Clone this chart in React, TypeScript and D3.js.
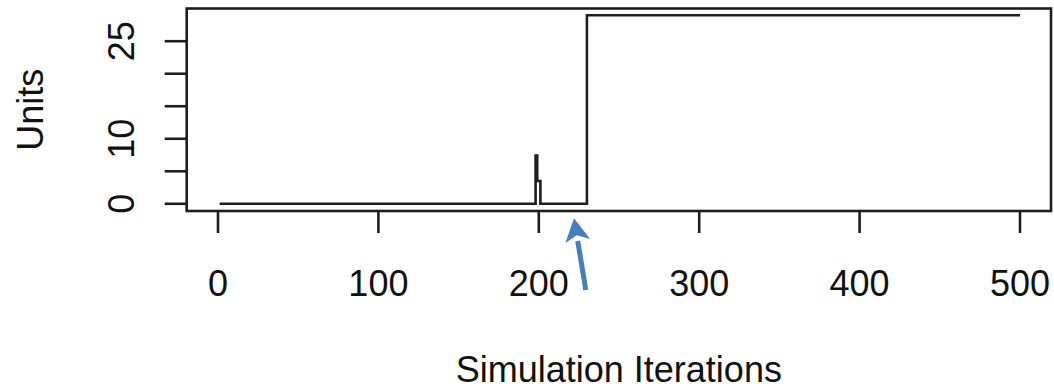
import React from "react";
import * as d3 from "d3";

// Change points of the simulated series (iteration, units); each value
// holds until the next change point.
const iterations = [1, 198, 199, 201, 230, 500];
const units = [0, 7.4, 3.5, 0, 29, 29];

const xTicks = [0, 100, 200, 300, 400, 500];
const yTicks = [0, 5, 10, 15, 20, 25];
const yTickLabels = ["0", "", "10", "", "", "25"];

const xLabel = "Simulation Iterations";
const yLabel = "Units";

const W = 1054;
const H = 392;
const frame = { left: 186.7, top: 8.5, right: 1051, bottom: 211 };
const FONT = "'Liberation Sans', Arial, sans-serif";
const INK = "#1e1e1e";
const ARROW = "#4a7ebb";

export default function App() {
  const x = d3.scaleLinear().domain([0, 500]).range([218, 1020]);
  const y = d3.scaleLinear().domain([0, 25]).range([203.8, 41.2]);

  const points: [number, number][] = iterations.map((it, i) => [it, units[i]]);
  const line = d3
    .line<[number, number]>()
    .curve(d3.curveStepAfter)
    .x((d) => x(d[0]))
    .y((d) => y(d[1]));

  const tickLen = 22;

  // annotation arrow pointing at the quiet stretch before the jump
  const tail: [number, number] = [585.8, 290];
  const tip: [number, number] = [574, 218.3];
  const ang = Math.atan2(tip[1] - tail[1], tip[0] - tail[0]);
  const headLen = 23;
  const headHalf = 12.5;
  const bx = tip[0] - headLen * Math.cos(ang);
  const by = tip[1] - headLen * Math.sin(ang);
  const px = -Math.sin(ang);
  const py = Math.cos(ang);
  const head = [
    [tip[0], tip[1]],
    [bx + px * headHalf, by + py * headHalf],
    [bx + 0.25 * headLen * Math.cos(ang), by + 0.25 * headLen * Math.sin(ang)],
    [bx - px * headHalf, by - py * headHalf],
  ]
    .map((p) => p.join(","))
    .join(" ");

  return (
    <svg
      width={W}
      height={H}
      style={{ position: "absolute", left: 0, top: 0, background: "#fff" }}
      fontFamily={FONT}
    >
      <rect x={0} y={0} width={W} height={H} fill="#fff" />

      {/* series */}
      <path
        d={line(points) || ""}
        fill="none"
        stroke={INK}
        strokeWidth={2.6}
        strokeLinejoin="miter"
      />

      {/* plot frame */}
      <rect
        x={frame.left}
        y={frame.top}
        width={frame.right - frame.left}
        height={frame.bottom - frame.top}
        fill="none"
        stroke={INK}
        strokeWidth={2.6}
      />

      {/* x axis */}
      {xTicks.map((t) => (
        <g key={`x${t}`}>
          <line
            x1={x(t)}
            x2={x(t)}
            y1={frame.bottom}
            y2={frame.bottom + tickLen}
            stroke={INK}
            strokeWidth={2.6}
          />
          <text
            x={x(t)}
            y={295.5}
            textAnchor="middle"
            fontSize={36}
            fill="#111"
          >
            {t}
          </text>
        </g>
      ))}

      {/* y axis */}
      {yTicks.map((t, i) => (
        <g key={`y${t}`}>
          <line
            x1={frame.left - tickLen}
            x2={frame.left}
            y1={y(t)}
            y2={y(t)}
            stroke={INK}
            strokeWidth={2.6}
          />
          {yTickLabels[i] && (
            <text
              transform={`translate(134,${y(t)}) rotate(-90)`}
              textAnchor="middle"
              fontSize={36}
              fill="#111"
            >
              {yTickLabels[i]}
            </text>
          )}
        </g>
      ))}

      {/* axis titles */}
      <text
        x={(frame.left + frame.right) / 2}
        y={381.5}
        textAnchor="middle"
        fontSize={36}
        fill="#111"
      >
        {xLabel}
      </text>
      <text
        transform={`translate(42.5,${(frame.top + frame.bottom) / 2}) rotate(-90)`}
        textAnchor="middle"
        fontSize={36}
        fill="#111"
      >
        {yLabel}
      </text>

      {/* arrow */}
      <line
        x1={tail[0]}
        y1={tail[1]}
        x2={bx}
        y2={by}
        stroke={ARROW}
        strokeWidth={5}
      />
      <polygon points={head} fill={ARROW} />
    </svg>
  );
}
